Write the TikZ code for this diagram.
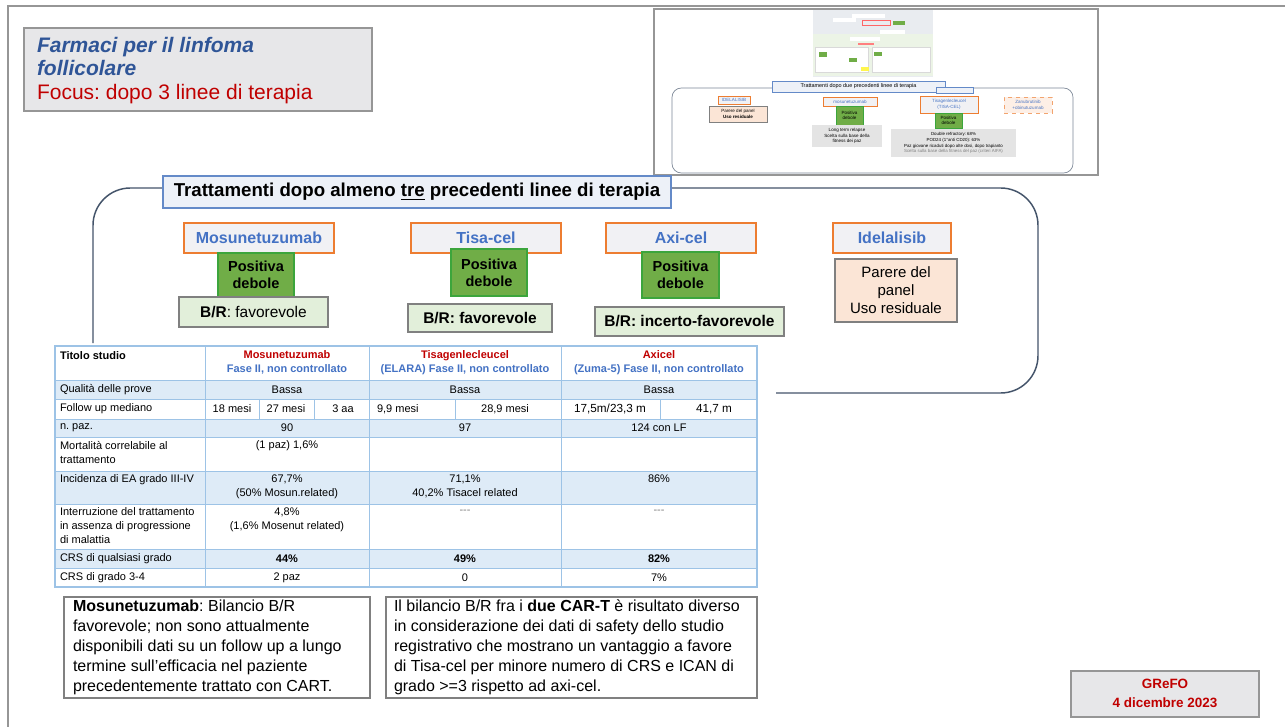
\documentclass[tikz,border=0pt]{standalone}
\usepackage{fontspec}
\setmainfont{Liberation Sans}
\usetikzlibrary{fit}
\frenchspacing
\definecolor{slidegray}{RGB}{150,150,150}
\definecolor{titlefill}{RGB}{231,231,233}
\definecolor{titleblue}{RGB}{47,85,151}
\definecolor{redt}{RGB}{192,0,0}
\definecolor{framec}{RGB}{68,84,106}
\definecolor{mainfill}{RGB}{237,241,248}
\definecolor{mainborder}{RGB}{100,138,200}
\definecolor{drugfill}{RGB}{241,241,244}
\definecolor{drugblue}{RGB}{68,114,196}
\definecolor{orangeb}{RGB}{237,125,49}
\definecolor{posfill}{RGB}{112,173,71}
\definecolor{posborder}{RGB}{60,165,60}
\definecolor{brfill}{RGB}{226,239,218}
\definecolor{boxgray}{RGB}{128,128,128}
\definecolor{parfill}{RGB}{251,229,214}
\definecolor{tline}{RGB}{157,195,230}
\definecolor{trow}{RGB}{222,235,247}
\definecolor{thgray}{RGB}{217,217,217}
\definecolor{thimg}{RGB}{233,236,240}
\definecolor{thgreen}{RGB}{236,244,230}
\begin{document}
\begin{tikzpicture}[x=0.75pt,y=-0.75pt,
  every node/.style={inner sep=0pt,outer sep=0pt},
  slideline/.style={draw=slidegray,line width=1.3pt},
  titlebox/.style={fill=titlefill,draw=slidegray,line width=1.1pt},
  frameline/.style={draw=framec,line width=1.1pt},
  mainbox/.style={fill=mainfill,draw=mainborder,line width=1.1pt},
  maintext/.style={font=\fontsize{14pt}{16pt}\selectfont\bfseries},
  drugbox/.style={fill=drugfill,draw=orangeb,line width=1.1pt},
  drugtext/.style={text=drugblue,font=\fontsize{12pt}{14pt}\selectfont\bfseries},
  posbox/.style={fill=posfill,draw=posborder,line width=1.1pt},
  postext/.style={align=center,font=\fontsize{10.9pt}{13pt}\selectfont\bfseries},
  brbox/.style={fill=brfill,draw=boxgray,line width=0.9pt},
  brtext/.style={font=\fontsize{11.6pt}{14pt}\selectfont},
  parbox/.style={fill=parfill,draw=boxgray,line width=0.9pt},
  partext/.style={align=center,font=\fontsize{11.25pt}{13.5pt}\selectfont},
  tl/.style={draw=tline,line width=0.75pt},
  tcell/.style={font=\fontsize{8.25pt}{10.5pt}\selectfont},
  tbold/.style={font=\fontsize{8.25pt}{10.5pt}\selectfont\bfseries},
  thead/.style={align=center,font=\fontsize{8.25pt}{10.5pt}\selectfont\bfseries},
  notebox/.style={fill=white,draw=boxgray,line width=1pt},
  notetext/.style={align=left,anchor=north west,font=\fontsize{12pt}{15pt}\selectfont},
  grefo/.style={fill=titlefill,draw=slidegray,line width=1.1pt},
  grefotext/.style={text=redt,font=\fontsize{10.1pt}{12pt}\selectfont\bfseries},
  thline/.style={draw=slidegray,line width=1.1pt},
  thtiny/.style={align=center,font=\fontsize{3.4pt}{4.3pt}\selectfont},
  thdrug/.style={fill=drugfill,draw=orangeb,line width=0.4pt},
  thdrugtext/.style={thtiny,text=drugblue},
  thpos/.style={fill=posfill,draw=posborder,line width=0.3pt},
  thgraybox/.style={fill=thgray!70,draw=none}
]
\useasboundingbox (0,0) rectangle (1285,727);
\fill[white] (0,0) rectangle (1285,727);

% slide frame
\draw[slideline] (8,727) -- (8,6) -- (1285,6);

% title box
\node[titlebox,fit={(24,28) (372,111)}] (titlebox) {};
\node[anchor=base west,font=\fontsize{15.75pt}{18pt}\selectfont\bfseries\itshape,text=titleblue] (title1) at (37,53) {Farmaci per il linfoma};
\node[anchor=base west,font=\fontsize{15.75pt}{18pt}\selectfont\bfseries\itshape,text=titleblue] (title2) at (37,76) {follicolare};
\node[anchor=base west,font=\fontsize{15.75pt}{18pt}\selectfont,text=redt] (title3) at (37,100) {Focus: dopo 3 linee di terapia};

% thumbnail of previous slide
\draw[thline] (654,9) rectangle (1098,175);
\fill[thimg] (813,10) rectangle (933,77);
\fill[thgreen] (813,34) rectangle (933,76);
\fill[white] (852,14) rectangle (885,18);
\fill[white] (833,18) rectangle (856,22);
\draw[red!60,line width=0.3pt] (862,20) rectangle (890,25);
\fill[posfill] (893,21) rectangle (905,25);
\fill[white] (880,30) rectangle (905,34);
\fill[white] (850,37) rectangle (880,41);
\fill[red!50] (858,43) rectangle (874,45);
\draw[thgray,line width=0.3pt,fill=white] (815,47) rectangle (868,72);
\draw[thgray,line width=0.3pt,fill=white] (872,47) rectangle (930,72);
\fill[posfill] (819,52) rectangle (827,57);
\fill[posfill] (849,58) rectangle (857,62);
\fill[posfill] (874,52) rectangle (882,56);
\fill[yellow!70] (861,67) rectangle (869,71);
\draw[draw=framec!70,line width=0.5pt,rounded corners=7pt] (672,88) rectangle (1073,173);
\node[fill=mainfill,draw=mainborder,line width=0.4pt,fit={(772,81) (945,92)}] (thtitle) {};
\node[font=\fontsize{4.1pt}{5pt}\selectfont] (thtitlet) at (thtitle.center) {Trattamenti dopo due precedenti linee di terapia};
\node[fill=mainfill,draw=mainborder,line width=0.4pt,fit={(936,87) (973,93)}] (thnum) {};
\node[thdrug,fit={(718,96) (750,104)}] (thidela) {};
\node[thdrugtext] (thidelat) at (thidela.center) {IDELALISIB};
\node[fill=parfill,draw=boxgray,line width=0.3pt,fit={(709,106) (767,122)}] (thparere) {};
\node[thtiny] (thpareret) at (thparere.center) {Parere del panel\\\textbf{Uso residuale}};
\node[thdrug,fit={(823,97) (877,106)}] (thmosun) {};
\node[thdrugtext] (thmosunt) at (thmosun.center) {mosunetuzumab};
\node[thpos,fit={(836,106) (863,125)}] (thpos1) {};
\node[thtiny] (thpos1t) at (thpos1.center) {Positiva\\debole};
\node[thgraybox,fit={(812,125) (882,147)}] (thlong) {};
\node[thtiny] (thlongt) at (thlong.center) {Long term relapse\\Scelta sulla base della\\fitness dei paz};
\node[thdrug,fit={(920,96) (978,113)}] (thtisa) {};
\node[thdrugtext] (thtisat) at (thtisa.center) {Tisagenlecleucel\\(TISA-CEL)};
\node[thpos,fit={(935,113) (962,128)}] (thpos2) {};
\node[thtiny] (thpos2t) at (thpos2.center) {Positiva\\debole};
\node[thgraybox,fit={(891,129) (1016,157)}] (thdouble) {};
\node[thtiny,font=\fontsize{3.3pt}{4.4pt}\selectfont] (thdoublet) at (thdouble.center) {Double refractory: 68\%\\POD24 (1°anti CD20): 63\%\\Paz giovane ricaduti dopo alte dosi, dopo trapianto\\\textcolor{gray}{Scelta sulla base della fitness del paz (criteri AIFA)}};
\node[fill=parfill!60,draw=orangeb!70,dashed,line width=0.3pt,fit={(1004,97) (1052,113)}] (thzanu) {};
\node[thdrugtext] (thzanut) at (thzanu.center) {Zanubrutinib\\+obinutuzumab};

% main frame
\draw[frameline,rounded corners=28pt] (163,188) -- (93,188) -- (93,343);
\draw[frameline,rounded corners=28pt] (671,188) -- (1038,188) -- (1038,393) -- (776,393);
\node[mainbox,fit={(163,176) (671,208)}] (maintitle) {};
\node[maintext] (maintitlet) at (maintitle.center) {Trattamenti dopo almeno \underline{tre} precedenti linee di terapia};

% drug boxes
\node[drugbox,fit={(184,223) (334,253)}] (mosun) {};
\node[drugtext] (mosunt) at (mosun.center) {Mosunetuzumab};
\node[drugbox,fit={(411,223) (561,253)}] (tisa) {};
\node[drugtext] (tisat) at (tisa.center) {Tisa-cel};
\node[drugbox,fit={(606,223) (756,253)}] (axi) {};
\node[drugtext] (axit) at (axi.center) {Axi-cel};
\node[drugbox,fit={(833,223) (951,253)}] (idela) {};
\node[drugtext] (idelat) at (idela.center) {Idelalisib};

\node[posbox,fit={(218,253) (294,297)}] (pos1) {};
\node[postext] (pos1t) at (pos1.center) {Positiva\\debole};
\node[posbox,fit={(451,249) (527,296)}] (pos2) {};
\node[postext] (pos2t) at (pos2.center) {Positiva\\debole};
\node[posbox,fit={(642,252) (719,298)}] (pos3) {};
\node[postext] (pos3t) at (pos3.center) {Positiva\\debole};

\node[brbox,fit={(179,297) (328,327)}] (br1) {};
\node[brtext] (br1t) at (br1.center) {\textbf{B/R}: favorevole};
\node[brbox,fit={(408,304) (552,332)}] (br2) {};
\node[brtext] (br2t) at (br2.center) {\textbf{B/R: favorevole}};
\node[brbox,fit={(595,307) (784,336)}] (br3) {};
\node[brtext] (br3t) at (br3.center) {\textbf{B/R: incerto-favorevole}};
\node[parbox,fit={(835,259) (957,322)}] (parere) {};
\node[partext] (pareret) at (parere.center) {Parere del\\panel\\Uso residuale};

% table
\fill[white] (55,346) rectangle (757,587);
\foreach \ya/\yb in {380/399,419/437,471/504,549/568} \fill[trow] (55,\ya) rectangle (757,\yb);
\foreach \yy in {380,399,419,437,471,504,549,568} \draw[tl] (55,\yy) -- (757,\yy);
\foreach \xx in {205,369,561} \draw[tl] (\xx,346) -- (\xx,587);
\foreach \xx in {259,314,455,660} \draw[tl] (\xx,399) -- (\xx,419);
\draw[tl,line width=1.1pt] (55,346) rectangle (757,587);

\node[tbold,anchor=north west] (h0) at (60,352) {Titolo studio};
\node[thead,anchor=north] (h1) at (287,351) {\textcolor{redt}{Mosunetuzumab}\\\textcolor{drugblue}{Fase II, non controllato}};
\node[thead,anchor=north] (h2) at (465,351) {\textcolor{redt}{Tisagenlecleucel}\\\textcolor{drugblue}{(ELARA) Fase II, non controllato}};
\node[thead,anchor=north] (h3) at (659,351) {\textcolor{redt}{Axicel}\\\textcolor{drugblue}{(Zuma-5) Fase II, non controllato}};

\node[tcell,anchor=west] (r1) at (60,389.5) {Qualità delle prove};
\node[tcell] (r1a) at (287,389.5) {Bassa};
\node[tcell] (r1b) at (465,389.5) {Bassa};
\node[tcell] (r1c) at (659,389.5) {Bassa};

\node[tcell,anchor=west] (r2) at (60,409) {Follow up mediano};
\node[tcell] (r2a) at (232,409) {18 mesi};
\node[tcell] (r2b) at (286,409) {27 mesi};
\node[tcell] (r2c) at (343,409) {3 aa};
\node[tcell,anchor=west] (r2d) at (377,409) {9,9 mesi};
\node[tcell] (r2e) at (505,409) {28,9 mesi};
\node[tcell,font=\fontsize{8.8pt}{10.5pt}\selectfont] (r2f) at (610,409) {17,5m/23,3 m};
\node[tcell,font=\fontsize{8.8pt}{10.5pt}\selectfont] (r2g) at (714,409) {41,7 m};

\node[tcell,anchor=west] (r3) at (60,428) {n. paz.};
\node[tcell] (r3a) at (287,428) {90};
\node[tcell] (r3b) at (465,428) {97};
\node[tcell] (r3c) at (659,428) {124 con LF};

\node[tcell,anchor=north west,align=left] (r4) at (60,441) {Mortalità correlabile al\\trattamento};
\node[tcell,anchor=north] (r4a) at (287,441) {(1 paz) 1,6\%};

\node[tcell,anchor=north west] (r5) at (60,475) {Incidenza di EA grado III-IV};
\node[tcell,anchor=north,align=center] (r5a) at (287,475) {67,7\%\\(50\% Mosun.related)};
\node[tcell,anchor=north,align=center] (r5b) at (465,475) {71,1\%\\40,2\% Tisacel related};
\node[tcell,anchor=north] (r5c) at (659,475) {86\%};

\node[tcell,anchor=north west,align=left] (r6) at (60,508) {Interruzione del trattamento\\in assenza di progressione\\di malattia};
\node[tcell,anchor=north,align=center] (r6a) at (287,508) {4,8\%\\(1,6\% Mosenut related)};
\node[tcell,anchor=north,text=gray] (r6b) at (465,510) {{-}{-}{-}};
\node[tcell,anchor=north,text=gray] (r6c) at (659,510) {{-}{-}{-}};

\node[tcell,anchor=west] (r7) at (60,558.5) {CRS di qualsiasi grado};
\node[tbold] (r7a) at (287,558.5) {44\%};
\node[tbold] (r7b) at (465,558.5) {49\%};
\node[tbold] (r7c) at (659,558.5) {82\%};

\node[tcell,anchor=west] (r8) at (60,577.5) {CRS di grado 3-4};
\node[tcell] (r8a) at (287,577.5) {2 paz};
\node[tcell] (r8b) at (465,577.5) {0};
\node[tcell] (r8c) at (659,577.5) {7\%};

% notes
\node[notebox,fit={(64,597) (370,698)}] (note1) {};
\node[notetext] (note1t) at (73,600) {\textbf{Mosunetuzumab}: Bilancio B/R\\favorevole; non sono attualmente\\disponibili dati su un follow up a lungo\\termine sull’efficacia nel paziente\\precedentemente trattato con CART.};
\node[notebox,fit={(386,597) (757,698)}] (note2) {};
\node[notetext] (note2t) at (394,600) {Il bilancio B/R fra i \textbf{due CAR-T} è risultato diverso\\in considerazione dei dati di safety dello studio\\registrativo che mostrano un vantaggio a favore\\di Tisa-cel per minore numero di CRS e ICAN di\\grado >=3 rispetto ad axi-cel.};

% GReFO
\node[grefo,fit={(1071,671) (1259,717)}] (grefo) {};
\node[grefotext] (grefo1) at (1165,684) {GReFO};
\node[grefotext] (grefo2) at (1165,703) {4 dicembre 2023};
\end{tikzpicture}
\end{document}
